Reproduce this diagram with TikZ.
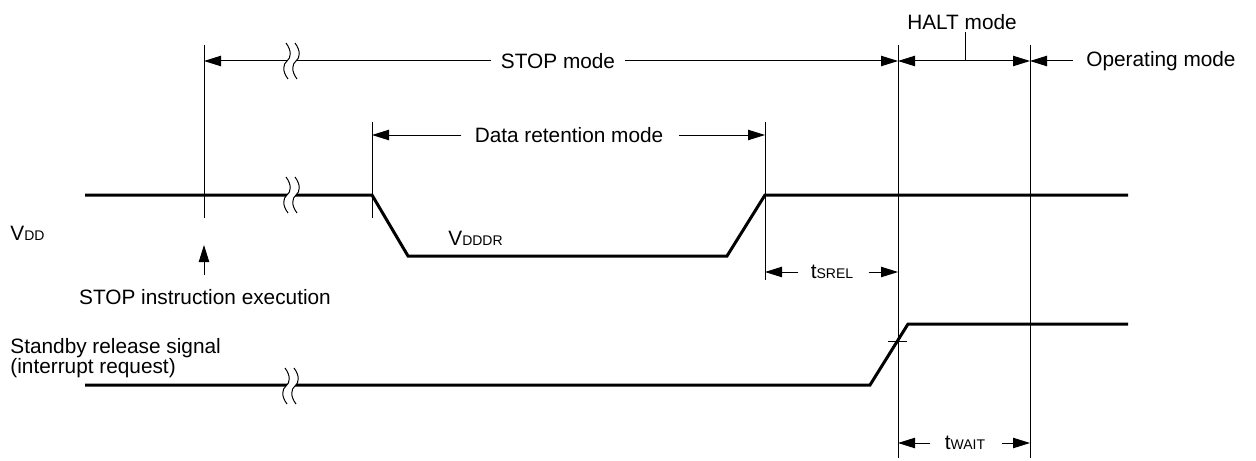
\documentclass[tikz,border=0pt]{standalone}
\usepackage{fontspec}
\setmainfont{Liberation Sans}
\usetikzlibrary{arrows.meta}
\newcommand{\sml}[1]{{\fontsize{7}{8}\selectfont #1}}
\tikzset{
  sig/.style={line width=1.5pt, line join=miter},
  thinl/.style={line width=0.5pt},
  arr/.style={thinl, -{Triangle[length=8.5pt,width=5.2pt]}},
  lbl/.style={inner sep=0pt, font=\fontsize{10.4}{12.5}\selectfont},
  brk/.pic={
    \fill[white] (-1,-18) .. controls (5,-10) and (4,-3) .. (0,0) .. controls (-4,3) and (-5,10) .. (1,18)
      -- (10,18) .. controls (4,10) and (5,3) .. (9,0) .. controls (13,-3) and (14,-10) .. (8,-18) -- cycle;
    \draw[thinl] (-1,-18) .. controls (5,-10) and (4,-3) .. (0,0) .. controls (-4,3) and (-5,10) .. (1,18);
    \draw[thinl] (8,-18) .. controls (14,-10) and (13,-3) .. (9,0) .. controls (5,3) and (4,10) .. (10,18);
  }
}
\begin{document}
\begin{tikzpicture}[x=0.5pt,y=-0.5pt]
\useasboundingbox[fill=white] (0,0) rectangle (1256,460);

% vertical reference lines
\coordinate (v1t) at (204,45);   \coordinate (v1b) at (204,218);
\coordinate (v2t) at (372,122);  \coordinate (v2b) at (372,218);
\coordinate (v3t) at (765,122);  \coordinate (v3b) at (765,280);
\coordinate (v4t) at (898,45);   \coordinate (v4b) at (898,458);
\coordinate (v5t) at (1030,45);  \coordinate (v5b) at (1030,458);
\foreach \a in {v1,v2,v3,v4,v5} \draw[thinl] (\a t) -- (\a b);

% VDD signal
\coordinate (d0) at (85,195);
\coordinate (d1) at (372,195);
\coordinate (d2) at (408,256);
\coordinate (d3) at (727,256);
\coordinate (d4) at (765,195);
\coordinate (d5) at (1128,195);
\draw[sig] (d0) -- (d1) -- (d2) -- (d3) -- (d4) -- (d5);

% Standby release signal
\coordinate (s0) at (85,385);
\coordinate (s1) at (870,385);
\coordinate (s2) at (908,324);
\coordinate (s3) at (1128,324);
\draw[sig] (s0) -- (s1) -- (s2) -- (s3);
\coordinate (k1) at (888,341); \coordinate (k2) at (907,341);
\draw[thinl] (k1) -- (k2);

% STOP mode
\node[lbl] (stop) at (558,61) {STOP mode};
\coordinate (stopL) at (204,61);
\coordinate (stopR) at (898,61);
\draw[arr] (stop.west) ++(-10,0) coordinate (stopLs) -- (stopL);
\draw[arr] (stop.east) ++(10,0) coordinate (stopRs) -- (stopR);

% break marks
\pic at (287,61) {brk};
\pic at (287,195) {brk};
\pic at (286,386) {brk};

% HALT mode
\node[lbl] (halt) at (962,22) {HALT mode};
\coordinate (hL) at (898,61);
\coordinate (hR) at (1030,61);
\coordinate (hM) at (965,61);
\coordinate (hT) at (965,32);
\draw[arr] (hM) -- (hL);
\draw[arr] (hM) -- (hR);
\draw[thinl] (hT) -- (hM);

% Operating mode
\node[lbl, anchor=west] (oper) at (1086,61) {Operating mode};
\coordinate (oL) at (1030,61);
\draw[arr] (oper.west) ++(-13,0) -- (oL);

% Data retention mode
\node[lbl] (dret) at (569,135) {Data retention mode};
\coordinate (rL) at (372,135);
\coordinate (rR) at (765,135);
\draw[arr] (dret.west) ++(-13,0) -- (rL);
\draw[arr] (dret.east) ++(15,0) -- (rR);

% labels
\node[lbl, anchor=west] (vdd) at (10,233) {V\sml{DD}};
\node[lbl, anchor=base west] (vdddr) at (448,245) {V\sml{DDDR}};

% STOP instruction
\coordinate (ia) at (204,275);
\coordinate (ib) at (204,245);
\draw[arr] (ia) -- (ib);
\node[lbl] (stopi) at (205,297) {STOP instruction execution};

% tSREL
\node[lbl] (tsrel) at (832,272) {t\sml{SREL}};
\coordinate (tsL) at (765,272);
\coordinate (tsR) at (898,272);
\draw[arr] (tsrel.west) ++(-12,0) -- (tsL);
\draw[arr] (tsrel.east) ++(15,0) -- (tsR);

% standby labels
\node[lbl, anchor=base west] (sb1) at (10,353) {Standby release signal};
\node[lbl, anchor=base west] (sb2) at (10,373) {(interrupt request)};

% tWAIT
\node[lbl] (twait) at (965,443) {t\sml{WAIT}};
\coordinate (twL) at (898,443);
\coordinate (twR) at (1030,443);
\draw[arr] (twait.west) ++(-14,0) -- (twL);
\draw[arr] (twait.east) ++(16,0) -- (twR);
\end{tikzpicture}
\end{document}
